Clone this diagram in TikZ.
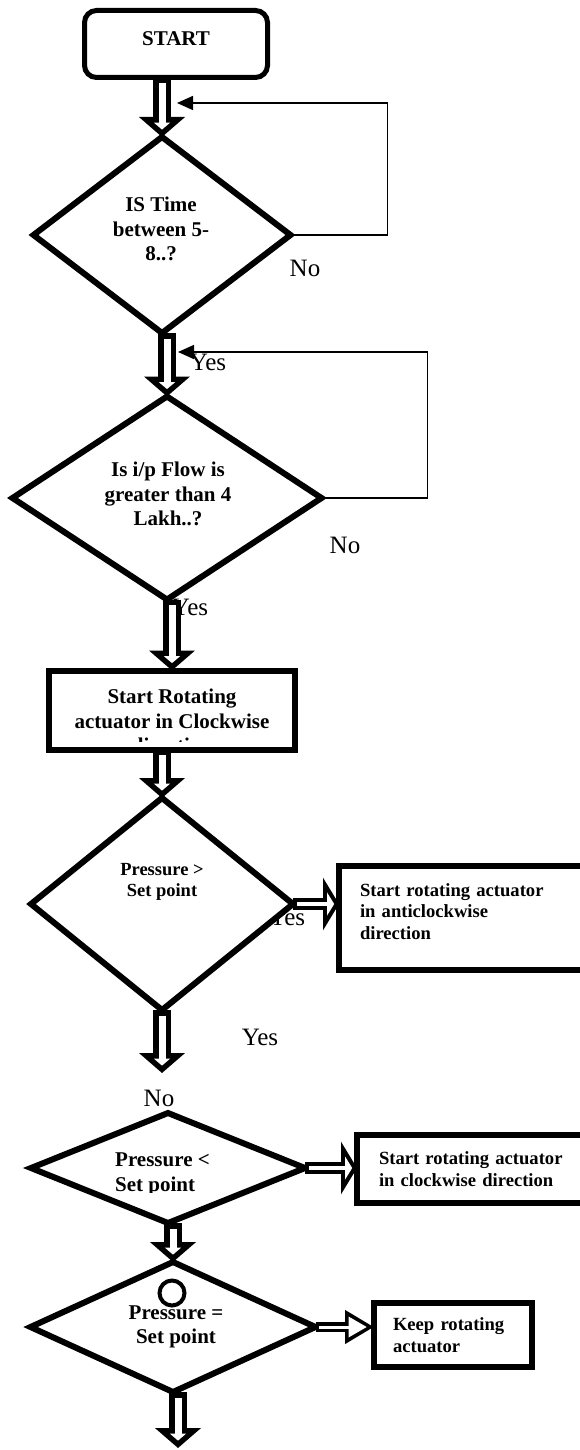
\documentclass[tikz,border=0pt]{standalone}
\usepackage{fontspec}
\setmainfont{Liberation Serif}
\usetikzlibrary{arrows.meta,shapes.geometric}

\newcommand{\hollow}[3][v]{%
  \draw[#1out] (#2) -- (#3);
  \draw[#1in] (#2) -- (#3);
}

\tikzset{
  startbox/.style={draw, rectangle, rounded corners=12pt, line width=5pt, fill=white, inner sep=0pt, outer sep=0pt,
    font=\bfseries\fontsize{21}{24}\selectfont},
  decision/.style={draw, diamond, line width=6pt, fill=white, inner sep=0pt, outer sep=0pt},
  procbox/.style={draw, rectangle, line width=6pt, fill=white, inner sep=0pt, outer sep=0pt},
  actbox/.style={procbox, align=left, font=\bfseries\fontsize{18.6}{21.5}\selectfont},
  qtext/.style={align=center, inner sep=0pt, font=\bfseries\fontsize{21}{24.5}\selectfont},
  lbl/.style={inner sep=0pt, font=\fontsize{25}{28}\selectfont},
  loopline/.style={line width=1.5pt, -{Triangle[length=16pt,width=14pt]}},
  vout/.style={line width=18pt, -{Triangle[length=20pt,width=45pt]}},
  vin/.style={white, line width=7pt, shorten <=5.5pt, shorten >=7.4pt, -{Triangle[length=7pt,width=16pt]}},
  hout/.style={line width=12pt, -{Triangle[length=16pt,width=52pt]}},
  hin/.style={white, line width=4pt, shorten <=4pt, shorten >=4.8pt, -{Triangle[length=7.2pt,width=23pt]}},
  kout/.style={line width=10pt, -{Triangle[length=29pt,width=32pt]}},
  kin/.style={white, line width=3pt, shorten <=3.5pt, shorten >=7.2pt, -{Triangle[length=18.3pt,width=20.2pt]}}
}

\begin{document}
\begin{tikzpicture}[x=1pt, y=-1pt]
    \useasboundingbox (0,0) rectangle (579,1450);

    % answer labels (partly hidden by what comes after)
    \node[lbl] (no1) at (305,268) {No};
    \node[lbl] (yes1) at (208,362) {Yes};
    \node[lbl] (no2) at (345,545) {No};
    \node[lbl] (yes2) at (190,607) {Yes};
    \node[lbl] (yes3) at (287,917) {Yes};
    \node[lbl] (yes4) at (260,1037) {Yes};
    \node[lbl] (no3) at (159,1098) {No};

    \node[startbox, minimum width=183pt, minimum height=67pt, text depth=10pt] (start) at (176,44) {START};

    \node[decision, minimum width=257pt, minimum height=196pt] (d1) at (162,235) {};
    \node[qtext] (q1) at (161,229) {IS Time\\between 5-\\8..?};

    \node[decision, minimum width=309pt, minimum height=203pt] (d2) at (167,498) {};
    \node[qtext] (q2) at (168,494) {Is i/p Flow is\\greater than 4\\Lakh..?};

    \node[procbox, minimum width=246pt, minimum height=79pt] (rot) at (172,710) {};
    \begin{scope}
        \clip (46,668) rectangle (298,741);
        \node[qtext] (rottxt) at (172,721) {Start Rotating\\actuator in Clockwise\\direction};
    \end{scope}

    \node[decision, minimum width=262pt, minimum height=212pt] (d3) at (162,904) {};
    \node[qtext, font=\bfseries\fontsize{18.5}{21}\selectfont] (q3) at (162,882) {Pressure >\\Set point};
    \node[procbox, minimum width=261pt, minimum height=104pt] (acw) at (469.5,918) {};
    \node[actbox, draw=none, fill=none, text width=219pt] (acwtxt) at (469.5,911.5)
        {Start rotating actuator\\in anticlockwise\\direction};

    \node[decision, minimum width=274pt, minimum height=110pt] (d4) at (168,1168) {};
    \begin{scope}
        \clip (20,1100) rectangle (320,1192);
        \node[qtext, align=left] (q4) at (162.5,1174.5) {Pressure <\\Set point};
    \end{scope}
    \node[actbox, minimum width=243pt, minimum height=68pt, text width=199pt] (cw) at (478.5,1169)
        {Start rotating actuator\\in clockwise direction};

    \node[decision, minimum width=285pt, minimum height=130pt] (d5) at (173,1327) {};
    \node[draw, circle, line width=4pt, minimum size=25pt, inner sep=0pt] (ring) at (172,1293) {};
    \node[qtext] (q5) at (176,1327) {Pressure =\\Set point};
    \node[actbox, minimum width=158pt, minimum height=64pt, text width=120pt] (keep) at (453,1335)
        {Keep rotating\\actuator};

    \coordinate (back1) at (177,103);
    \coordinate (back2) at (178,352);
    \coordinate (gap) at (162,1073);
    \coordinate (tail) at (178,1448);

    \hollow{d1.north |- start.south}{d1.north}
    \hollow{d2.north |- d1.south}{d2.north}
    \hollow{rot.north |- d2.south}{rot.north}
    \hollow{d3.north |- rot.south}{d3.north}
    \hollow[h]{d3.east}{d3.east -| acw.west}
    \hollow{gap |- d3.south}{gap}
    \hollow[h]{d4.east}{d4.east -| cw.west}
    \hollow{d5.north |- d4.south}{d5.north}
    \hollow[k]{d5.east}{d5.east -| keep.west}
    \hollow{tail |- d5.south}{tail}

    \draw[loopline] (d1.east) -- ++(97,0) |- (back1);
    \draw[loopline] (d2.east) -- ++(106,0) |- (back2);
\end{tikzpicture}
\end{document}
